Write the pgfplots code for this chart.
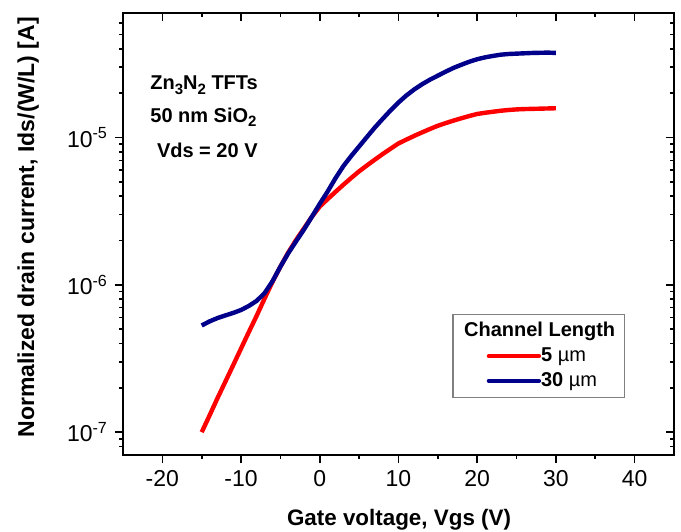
\documentclass[border=0pt]{standalone}
\usepackage{fontspec}
\setmainfont{Liberation Sans}
\usepackage{pgfplots}
\pgfplotsset{compat=1.18}

\definecolor{navy}{RGB}{0,0,139}
\definecolor{pure red}{RGB}{255,0,0}
\newcommand\sub[1]{\raisebox{-0.45ex}{\fontsize{7.5}{8}\selectfont #1}}

\pgfplotsset{
  common/.style={
    scale only axis, width=275.5pt, height=221pt,
    xmin=-25, xmax=45, ymin=7e-8, ymax=7e-5,
    xtick={-20,-10,0,10,20,30,40}, minor x tick num=1,
    ytick={1e-7,1e-6,1e-5},
    minor ytick={8e-8,9e-8,2e-7,3e-7,4e-7,5e-7,6e-7,7e-7,8e-7,9e-7,
                 2e-6,3e-6,4e-6,5e-6,6e-6,7e-6,8e-6,9e-6,
                 2e-5,3e-5,4e-5,5e-5,6e-5},
    major tick length=4pt, minor tick length=2pt,
    axis line style={line width=0.9pt},
    tick style={line width=0.8pt, black},
  }
}

\begin{document}
\begin{tikzpicture}
\begin{axis}[
  ymode=log,
  common,
  tick pos=left, tick align=outside,
  xticklabels={-20,-10,0,10,20,30,40},
  yticklabels={10\textsuperscript{-7},10\textsuperscript{-6},10\textsuperscript{-5}},
  tick label style={font=\fontsize{11.5}{13}\selectfont},
  xlabel={\textbf{Gate voltage, Vgs (V)}},
  ylabel={\textbf{Normalized drain current, Ids/(W/L) [A]}},
  xlabel style={at={(axis description cs:0.501,-0.147)}, anchor=center, font=\fontsize{11.2}{13}\selectfont},
  ylabel style={at={(axis description cs:-0.172,0.515)}, anchor=center, font=\fontsize{11.5}{13}\selectfont},
  legend style={at={(0.598,0.129)}, anchor=south west, draw=gray, line width=0.6pt,
    font=\fontsize{10}{12}\selectfont, inner xsep=2.5pt, inner ysep=2pt,
    nodes={inner xsep=2pt}},
  legend cell align=left,
  legend image code/.code={\path (-14.3pt,0pt); \draw[#1, line cap=round] (0pt,0pt) -- (25pt,0pt);},
]
\addlegendimage{empty legend}
\addlegendentry{\hspace{-40.5pt}\textbf{Channel Length}\hspace{-1.5pt}}

\addplot[pure red, line width=2.2pt] table {%
-15 1.0e-7
-14 1.3e-7
-13 1.7e-7
-12 2.2e-7
-11 2.85e-7
-10 3.7e-7
-9 4.8e-7
-8 6.2e-7
-7 8.1e-7
-6 1.05e-6
-5 1.33e-6
-4 1.66e-6
-3 2.02e-6
-2 2.42e-6
-1 2.9e-6
0 3.4e-6
1 3.82e-6
2 4.28e-6
3 4.78e-6
4 5.32e-6
5 5.9e-6
6 6.47e-6
7 7.08e-6
8 7.73e-6
9 8.4e-6
10 9.12e-6
11 9.68e-6
12 1.026e-5
13 1.084e-5
14 1.143e-5
15 1.202e-5
16 1.253e-5
17 1.303e-5
18 1.352e-5
19 1.40e-5
20 1.445e-5
21 1.472e-5
22 1.496e-5
23 1.52e-5
24 1.538e-5
25 1.552e-5
26 1.56e-5
27 1.565e-5
28 1.57e-5
29 1.575e-5
30 1.58e-5
};
\addlegendentry{\hspace{-2pt}\textbf{5} µm}

\addplot[navy, line width=2.2pt] table {%
-15 5.3e-7
-14 5.65e-7
-13 5.95e-7
-12 6.2e-7
-11 6.45e-7
-10 6.75e-7
-9 7.2e-7
-8 7.8e-7
-7 8.8e-7
-6 1.06e-6
-5 1.33e-6
-4 1.64e-6
-3 1.98e-6
-2 2.38e-6
-1 2.9e-6
0 3.55e-6
1 4.3e-6
2 5.3e-6
3 6.4e-6
4 7.5e-6
5 8.7e-6
6 1.01e-5
7 1.17e-5
8 1.34e-5
9 1.53e-5
10 1.73e-5
11 1.93e-5
12 2.12e-5
13 2.3e-5
14 2.47e-5
15 2.63e-5
16 2.8e-5
17 2.97e-5
18 3.12e-5
19 3.27e-5
20 3.4e-5
21 3.5e-5
22 3.58e-5
23 3.65e-5
24 3.69e-5
25 3.71e-5
26 3.73e-5
27 3.75e-5
28 3.76e-5
29 3.77e-5
30 3.75e-5
};
\addlegendentry{\hspace{-2pt}\textbf{30} µm}

\node[anchor=base west, inner sep=0pt, font=\bfseries\fontsize{10}{12}\selectfont] at (rel axis cs:0.049,0.826) {Zn\sub{3}N\sub{2} TFTs};
\node[anchor=base west, inner sep=0pt, font=\bfseries\fontsize{10}{12}\selectfont] at (rel axis cs:0.049,0.753) {50 nm SiO\sub{2}};
\node[anchor=base west, inner sep=0pt, font=\bfseries\fontsize{10}{12}\selectfont] at (rel axis cs:0.061,0.674) {Vds = 20 V};
\end{axis}

\begin{axis}[
  ymode=log,
  common,
  tick pos=right, tick align=inside,
  xticklabels={}, yticklabels={},
]
\addplot[draw=none] coordinates {(0,1e-6)};
\end{axis}

\pgfresetboundingbox
\path ([shift={(-61.5pt,-38pt)}]current axis.south west) rectangle ([shift={(3.5pt,6.5pt)}]current axis.north east);
\end{tikzpicture}
\end{document}
